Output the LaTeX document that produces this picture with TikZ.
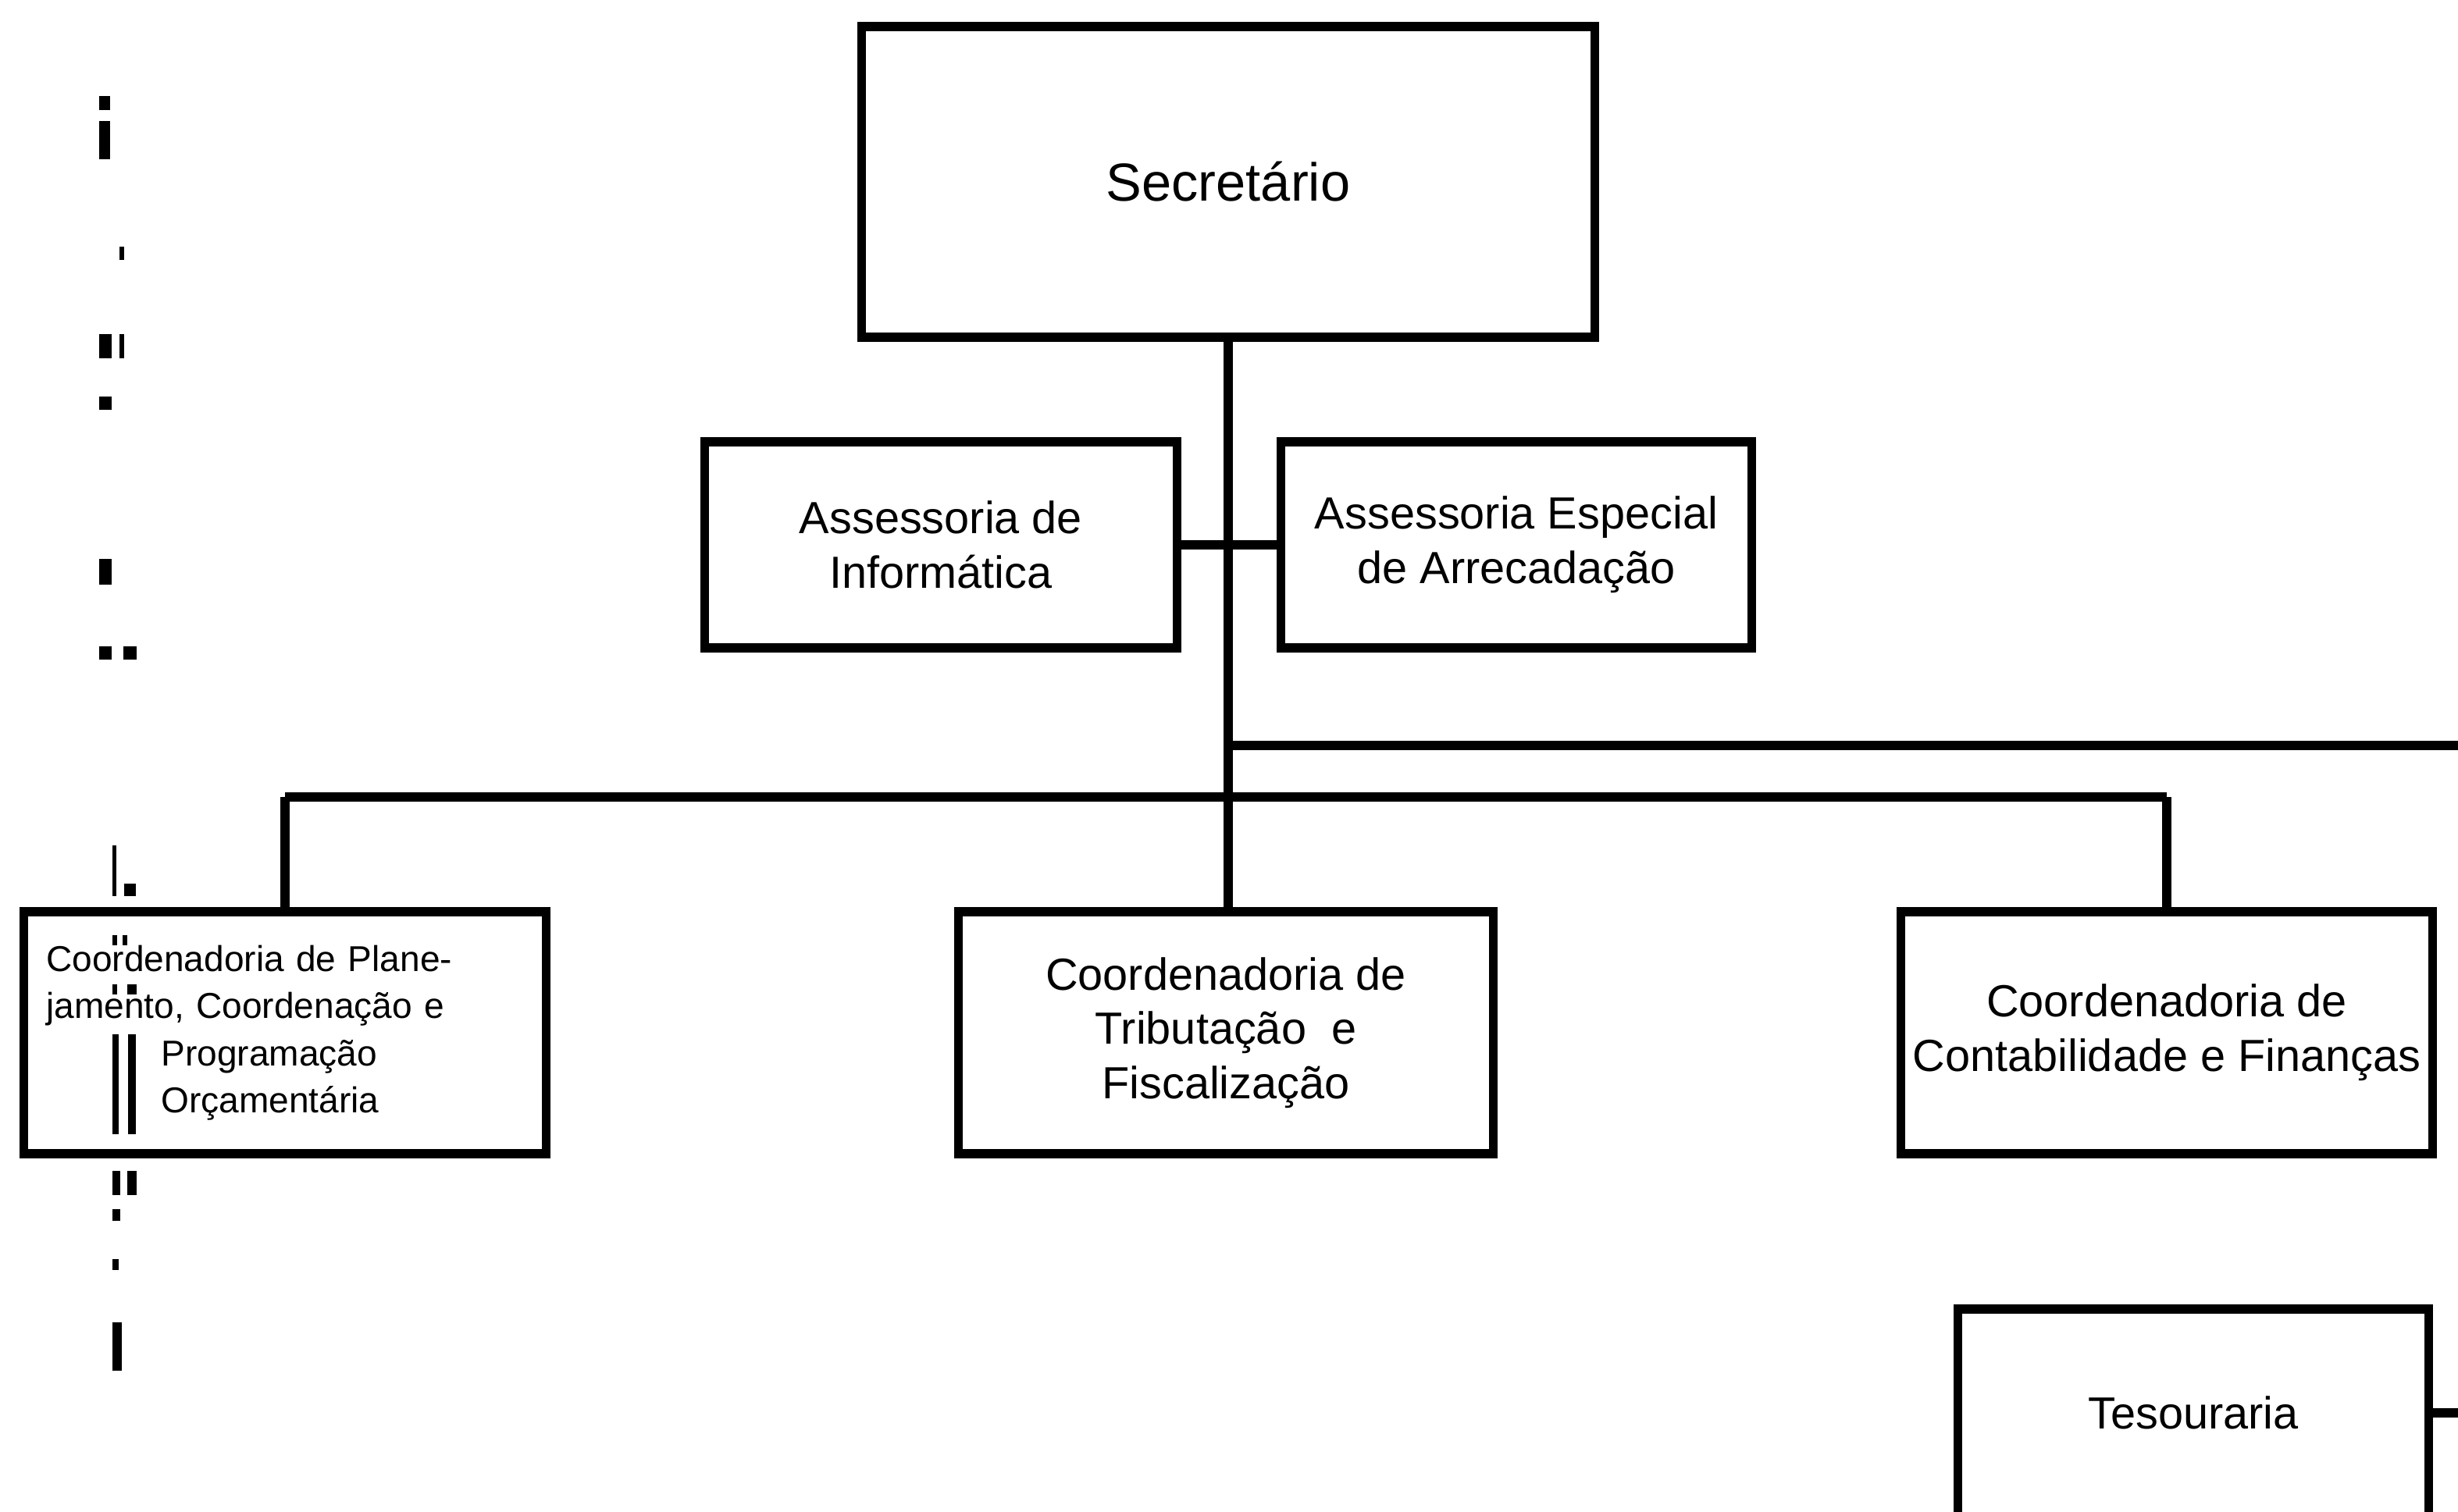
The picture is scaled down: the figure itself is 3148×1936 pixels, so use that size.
\documentclass[tikz,border=0pt]{standalone}
\usepackage{fontspec}
\setmainfont{Liberation Sans}
\usetikzlibrary{positioning}
\tikzset{
	orgbox/.style={
		draw,
		line width = 3.2pt,
		shape = rectangle,
		align = center,
		inner sep = 0pt,
		font = \fontsize{16.4}{19.8}\selectfont
	},
	orgline/.style={
		line width = 3.2pt
	},
	speck/.style={
		fill = black
	},
}

\begin{document}
\begin{tikzpicture}[x=0.01cm, y=-0.01cm]
    \useasboundingbox (0,0) rectangle (3148,1936);
    % scan marks in the left margin
    \foreach \xa/\ya/\xb/\yb in {127/123/141/141, 127/155/141/204, 153/316/159/333,
      127/428/143/459, 153/428/159/459, 127/508/143/525, 127/716/143/749,
      127/828/143/845, 158/828/175/845, 144/1083/149/1148, 159/1132/174/1148,
      144/1198/150/1211, 157/1198/163/1211, 144/1261/150/1274, 163/1261/175/1274,
      144/1325/152/1453, 164/1325/174/1453, 144/1500/154/1531, 163/1500/175/1531,
      144/1549/154/1564, 144/1613/152/1627, 144/1694/156/1756}{
      \fill[speck] (\xa,\ya) rectangle (\xb,\yb);
    }
    \node[orgbox, minimum width=9.39cm, minimum height=3.98cm,
      font=\fontsize{19.5}{23}\selectfont] (sec) at (1573,233) {Secretário};
    \node[orgbox, minimum width=6.05cm, minimum height=2.64cm] (inf) at (1205,698)
      {Assessoria de\\Informática};
    \node[orgbox, minimum width=6.02cm, minimum height=2.64cm] (arr) at (1942,698)
      {Assessoria Especial\\de Arrecadação};
    \node[orgbox, minimum width=6.69cm, minimum height=3.10cm, align=left,
      text width=6.11cm, inner xsep=0.29cm, font=\fontsize{13.1}{17.2}\selectfont]
      (plan) at (365,1323)
      {Coordenadoria de Plane-\\jamento, Coordenação e\\
       \hspace*{1.47cm}Programação\\\hspace*{1.47cm}Orçamentária};
    \node[orgbox, minimum width=6.84cm, minimum height=3.10cm] (trib) at (1570,1323)
      {Coordenadoria de\\Tributação\ \ e\\Fiscalização};
    \node[orgbox, minimum width=6.81cm, minimum height=3.10cm] (cont) at (2775,1323)
      {Coordenadoria de\\Contabilidade e Finanças};
    \node[orgbox, minimum width=6.02cm, minimum height=2.66cm] (tes) at (2809,1810)
      {Tesouraria};

    \coordinate (busL) at (365,1021);
    \coordinate (busR) at (2775,1021);
    \coordinate (edgeA) at (3148,955);
    \coordinate (edgeB) at (3148,1810);

    \draw[orgline] (sec.south) -- (sec.south |- trib.north);
    \draw[orgline] (inf.east) -- (arr.west);
    \draw[orgline] (sec.south |- edgeA) -- (edgeA);
    \draw[orgline] (busL) -- (busR);
    \draw[orgline] (busL) -- (plan.north);
    \draw[orgline] (busR) -- (cont.north);
    \draw[orgline] (tes.east) -- (edgeB);
  \end{tikzpicture}
\end{document}
